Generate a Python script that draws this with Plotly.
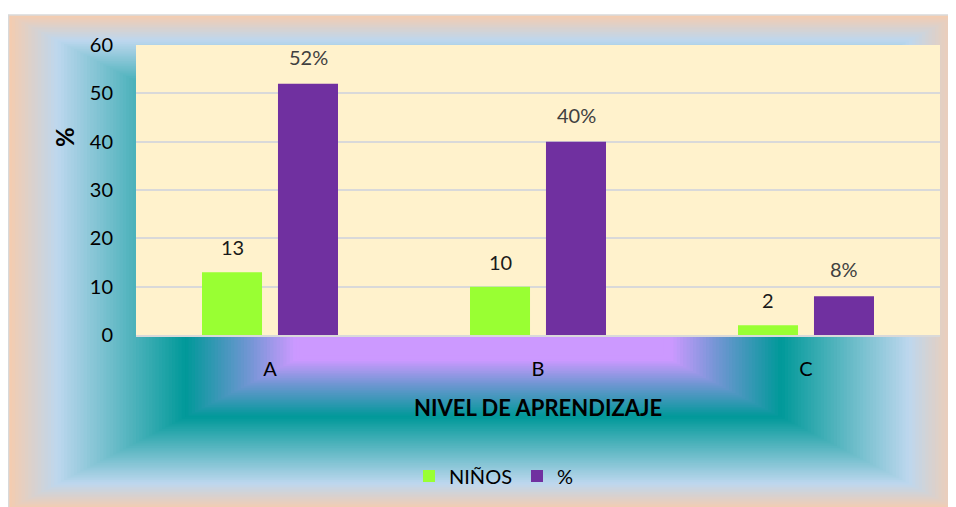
"""Niveles de aprendizaje - barras agrupadas."""

import plotly.graph_objects as go

# la página añade 8 px de margen al cuerpo: la figura ocupa de 8 a 956 / 507
OFF = 8
W, H = 956 - OFF, 507 - OFF

categorias = ["A", "B", "C"]
ninos = [13, 10, 2]
porcentaje = [52, 40, 8]
etiquetas_ninos = ["13", "10", "2"]
etiquetas_pct = ["52%", "40%", "8%"]

_FONT = "Lato, 'Open Sans', sans-serif"
_GRID = "#d9d9d9"

# marco con degradado rectangular desde el centro (px de página)
BOX = dict(x0=8.5, x1=958, y0=15, y1=509)
STOPS = [
    (0.00, (204, 153, 255)),
    (0.40, (204, 153, 255)),
    (0.50, (110, 150, 210)),
    (0.63, (0, 153, 153)),
    (0.90, (189, 215, 238)),
    (1.00, (244, 204, 176)),
]


def _color(t):
    for (t0, c0), (t1, c1) in zip(STOPS, STOPS[1:]):
        if t0 <= t <= t1:
            f = 0 if t1 == t0 else (t - t0) / (t1 - t0)
            r, g, b = (round(a + (b_ - a) * f) for a, b_ in zip(c0, c1))
            return f"rgb({r},{g},{b})"
    return "rgb(%d,%d,%d)" % STOPS[-1][1]


def _px(x, y):
    return (x - OFF) / W, 1 - (y - OFF) / H


fig = go.Figure()

fig.add_trace(
    go.Bar(
        x=categorias,
        y=ninos,
        name="NIÑOS",
        marker=dict(color="#99ff33", line=dict(width=0)),
    )
)
fig.add_trace(
    go.Bar(
        x=categorias,
        y=porcentaje,
        name="%",
        marker=dict(color="#7030a0", line=dict(width=0)),
    )
)

# fondo degradado
shapes = []
cx = (BOX["x0"] + BOX["x1"]) / 2
cy = (BOX["y0"] + BOX["y1"]) / 2
hw = (BOX["x1"] - BOX["x0"]) / 2
hh = (BOX["y1"] - BOX["y0"]) / 2
n = 90
for i in range(n + 1):
    t = 1 - i * (1 - 0.38) / n
    x0, y0 = _px(cx - t * hw, cy + t * hh)
    x1, y1 = _px(cx + t * hw, cy - t * hh)
    shapes.append(
        dict(
            type="rect", xref="paper", yref="paper", x0=x0, y0=y0, x1=x1, y1=y1,
            fillcolor=_color(t), line=dict(width=0), layer="below",
        )
    )
bx0, by0 = _px(BOX["x0"], BOX["y1"])
bx1, by1 = _px(BOX["x1"], BOX["y0"])
shapes.append(
    dict(type="rect", xref="paper", yref="paper", x0=bx0, y0=by0, x1=bx1, y1=by1,
         line=dict(color=_GRID, width=1.5), fillcolor="rgba(0,0,0,0)", layer="below")
)
shapes.append(
    dict(type="rect", xref="x domain", yref="y domain", x0=0, y0=0, x1=1, y1=1,
         fillcolor="#fff2cc", line=dict(width=0), layer="below")
)

annotations = []
for c, v, s in zip(categorias, ninos, etiquetas_ninos):
    annotations.append(dict(x=c, y=v, text=s, xref="x", yref="y", xshift=-38, yshift=11,
                            yanchor="bottom", xanchor="center", showarrow=False,
                            font=dict(size=20, color="#1a1a1a")))
for c, v, s in zip(categorias, porcentaje, etiquetas_pct):
    annotations.append(dict(x=c, y=v, text=s, xref="x", yref="y", xshift=38, yshift=13,
                            yanchor="bottom", xanchor="center", showarrow=False,
                            font=dict(size=20, color="#404040")))
tx, ty = _px(538, 407)
annotations.append(dict(text="<b>NIVEL DE APRENDIZAJE</b>", xref="paper", yref="paper",
                        x=tx, y=ty, xanchor="center", yanchor="middle", showarrow=False,
                        font=dict(size=22, color="#000000")))
tx, ty = _px(65, 137)
annotations.append(dict(text="<b>%</b>", xref="paper", yref="paper", textangle=-90,
                        x=tx, y=ty, xanchor="center", yanchor="middle", showarrow=False,
                        font=dict(size=24, color="#000000")))

lx, ly = _px(494, 476)
px0, py0 = _px(136, 335)
px1, py1 = _px(940, 45)

fig.update_layout(
    width=W,
    height=H,
    margin=dict(l=0, r=0, t=0, b=0),
    paper_bgcolor="#ffffff",
    plot_bgcolor="#fff2cc",
    font=dict(family=_FONT, color="#000000", size=20),
    barmode="group",
    bargap=0.433,
    bargroupgap=0.21,
    shapes=shapes,
    annotations=annotations,
    showlegend=True,
    legend=dict(
        orientation="h",
        x=lx,
        y=ly,
        xanchor="center",
        yanchor="middle",
        bgcolor="rgba(0,0,0,0)",
        font=dict(size=20, color="#000000"),
    ),
    xaxis=dict(
        domain=[px0, px1],
        showline=True,
        linecolor=_GRID,
        linewidth=1.5,
        showgrid=False,
        ticks="",
        tickfont=dict(size=20, color="#000000"),
        ticklabelstandoff=15,
        automargin=False,
        fixedrange=True,
    ),
    yaxis=dict(
        domain=[py0, py1],
        range=[0, 60],
        dtick=10,
        showgrid=True,
        gridcolor=_GRID,
        gridwidth=1.5,
        showline=False,
        zeroline=False,
        ticks="",
        tickfont=dict(size=20, color="#000000"),
        ticklabelstandoff=22,
        automargin=False,
        fixedrange=True,
    ),
)

fig.write_html("out.html")
